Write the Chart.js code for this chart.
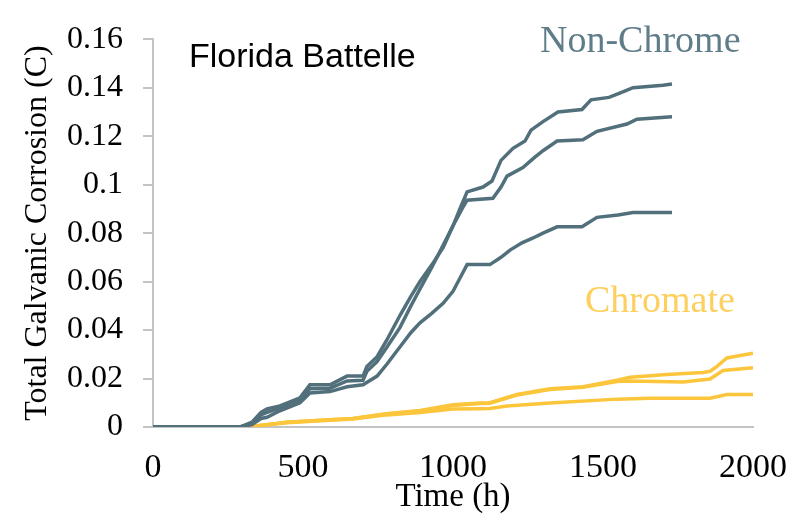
<!DOCTYPE html>
<html>
<head>
<meta charset="utf-8">
<script src="https://cdn.jsdelivr.net/npm/chart.js@4/dist/chart.umd.min.js"></script>
<style>
  html, body { margin: 0; padding: 0; background: #ffffff; }
  #wrap { width: 809px; height: 515px; }
</style>
</head>
<body>
<div id="wrap"><canvas id="corrosionChart" width="809" height="515"></canvas></div>
<script>
// Tick labels
const xTickLabels = ['0', '500', '1000', '1500', '2000'];
const yTickLabels = ['0', '0.02', '0.04', '0.06', '0.08', '0.1', '0.12', '0.14', '0.16'];

// Non-chrome panels (time in h, charge in C)
const nonChromeATime = [0, 290, 330, 360, 380, 423, 490, 523, 590, 647, 700, 713, 747, 780, 823, 860, 890, 930, 967, 1000, 1023, 1047, 1100, 1130, 1160, 1200, 1240, 1260, 1300, 1350, 1430, 1460, 1520, 1560, 1600, 1700, 1730];
const nonChromeAValue = [0, 0, 0.002, 0.006, 0.0075, 0.0087, 0.012, 0.0174, 0.0174, 0.021, 0.021, 0.025, 0.029, 0.036, 0.046, 0.054, 0.060, 0.067, 0.074, 0.083, 0.090, 0.097, 0.099, 0.1015, 0.110, 0.115, 0.118, 0.1225, 0.126, 0.130, 0.131, 0.135, 0.136, 0.138, 0.140, 0.141, 0.1415];

const nonChromeBTime = [0, 290, 330, 360, 380, 423, 490, 523, 590, 647, 700, 713, 747, 780, 823, 860, 890, 930, 967, 1000, 1030, 1047, 1133, 1160, 1180, 1233, 1270, 1300, 1347, 1433, 1480, 1580, 1613, 1730];
const nonChromeBValue = [0, 0, 0.0015, 0.005, 0.006, 0.0078, 0.011, 0.0158, 0.016, 0.019, 0.0193, 0.023, 0.027, 0.033, 0.041, 0.050, 0.057, 0.066, 0.075, 0.083, 0.090, 0.0936, 0.0944, 0.099, 0.1035, 0.107, 0.111, 0.114, 0.118, 0.1185, 0.122, 0.125, 0.127, 0.128];

const nonChromeCTime = [0, 290, 330, 360, 380, 423, 490, 523, 590, 647, 700, 747, 780, 823, 860, 890, 930, 967, 1000, 1030, 1047, 1123, 1160, 1190, 1230, 1267, 1300, 1347, 1430, 1480, 1550, 1600, 1730];
const nonChromeCValue = [0, 0, 0.001, 0.0035, 0.004, 0.0067, 0.010, 0.014, 0.0146, 0.0166, 0.0174, 0.021, 0.026, 0.033, 0.039, 0.043, 0.047, 0.051, 0.056, 0.063, 0.067, 0.067, 0.070, 0.073, 0.076, 0.078, 0.080, 0.0826, 0.0826, 0.0865, 0.0875, 0.0885, 0.0885];

// Chromate panels
const chromateATime = [0, 330, 350, 447, 560, 667, 780, 890, 1000, 1090, 1123, 1213, 1323, 1433, 1547, 1590, 1713, 1833, 1857, 1880, 1913, 2000];
const chromateAValue = [0, 0, 0.0005, 0.002, 0.0028, 0.0035, 0.0055, 0.0068, 0.0092, 0.0099, 0.0100, 0.0134, 0.0158, 0.0166, 0.0193, 0.0205, 0.0217, 0.0225, 0.023, 0.025, 0.0285, 0.0304];

const chromateBTime = [0, 330, 350, 447, 560, 667, 780, 890, 1000, 1090, 1123, 1213, 1323, 1433, 1547, 1590, 1767, 1857, 1900, 2000];
const chromateBValue = [0, 0, 0.0005, 0.002, 0.0028, 0.0035, 0.0055, 0.0066, 0.0089, 0.0097, 0.0098, 0.0132, 0.0155, 0.0164, 0.0188, 0.019, 0.0186, 0.0198, 0.0233, 0.0245];

const chromateCTime = [0, 330, 350, 447, 560, 667, 780, 890, 1000, 1090, 1123, 1180, 1323, 1547, 1657, 1857, 1913, 2000];
const chromateCValue = [0, 0, 0.0005, 0.0018, 0.0026, 0.0033, 0.005, 0.006, 0.0074, 0.0075, 0.0076, 0.0087, 0.0099, 0.0115, 0.0119, 0.0119, 0.0134, 0.0134];

const NON_CHROME_COLOR = '#52707b';
const CHROMATE_COLOR = '#fcc63c';

function toPoints(times, values) {
    return times.map((t, i) => ({ x: t, y: values[i] }));
}

function makeSeries(label, times, values, color) {
    return {
        label: label,
        data: toPoints(times, values),
        borderColor: color,
        backgroundColor: color,
        borderWidth: 3.5,
        pointRadius: 0,
        tension: 0,
        fill: false
    };
}

// Free text labels inside the plot
const textLabels = {
    id: 'textLabels',
    afterDraw(chart) {
        const ctx = chart.ctx;
        ctx.save();
        ctx.textBaseline = 'alphabetic';
        ctx.textAlign = 'left';
        ctx.fillStyle = '#000000';
        ctx.font = '34px "Liberation Sans", Arial, sans-serif';
        ctx.fillText('Florida Battelle', 189, 67);
        ctx.fillStyle = '#5f7d88';
        ctx.font = '38px "Liberation Serif", "Times New Roman", serif';
        ctx.fillText('Non-Chrome', 540, 52);
        ctx.fillStyle = '#fdcf5c';
        ctx.fillText('Chromate', 585, 312);
        ctx.restore();
    }
};

const serif = '"Liberation Serif", "Times New Roman", serif';

new Chart(document.getElementById('corrosionChart').getContext('2d'), {
    type: 'line',
    data: {
        datasets: [
            makeSeries('Non-Chrome 1', nonChromeATime, nonChromeAValue, NON_CHROME_COLOR),
            makeSeries('Non-Chrome 2', nonChromeBTime, nonChromeBValue, NON_CHROME_COLOR),
            makeSeries('Non-Chrome 3', nonChromeCTime, nonChromeCValue, NON_CHROME_COLOR),
            makeSeries('Chromate 1', chromateATime, chromateAValue, CHROMATE_COLOR),
            makeSeries('Chromate 2', chromateBTime, chromateBValue, CHROMATE_COLOR),
            makeSeries('Chromate 3', chromateCTime, chromateCValue, CHROMATE_COLOR)
        ]
    },
    options: {
        responsive: false,
        animation: false,
        layout: {
            padding: { left: 0, top: 22, right: 56, bottom: 0 }
        },
        plugins: {
            legend: { display: false },
            tooltip: { enabled: false }
        },
        scales: {
            x: {
                type: 'linear',
                min: 0,
                max: 2000,
                afterFit: (scale) => { scale.height = 88; },
                grid: { display: true, drawOnChartArea: false, drawTicks: false },
                border: { color: '#c4c4c4', width: 2 },
                ticks: {
                    stepSize: 500,
                    padding: 21,
                    color: '#000000',
                    maxRotation: 0,
                    font: { family: serif, size: 34 },
                    callback: (value, index) => xTickLabels[index]
                },
                title: {
                    display: true,
                    text: 'Time (h)',
                    color: '#000000',
                    padding: 0,
                    font: { family: serif, size: 33, lineHeight: 1.05 }
                }
            },
            y: {
                min: 0,
                max: 0.16,
                afterFit: (scale) => { scale.width = 153; },
                grid: { drawOnChartArea: false, drawTicks: true, tickLength: 10, color: '#c4c4c4', lineWidth: 2 },
                border: { color: '#c4c4c4', width: 2 },
                ticks: {
                    stepSize: 0.02,
                    padding: 20,
                    color: '#000000',
                    font: { family: serif, size: 32 },
                    callback: (value, index) => yTickLabels[index]
                },
                title: {
                    display: true,
                    text: 'Total Galvanic Corrosion (C)',
                    color: '#000000',
                    padding: { top: 18, bottom: 0 },
                    font: { family: serif, size: 32, lineHeight: 1.2 }
                }
            }
        }
    },
    plugins: [textLabels]
});
</script>
</body>
</html>
